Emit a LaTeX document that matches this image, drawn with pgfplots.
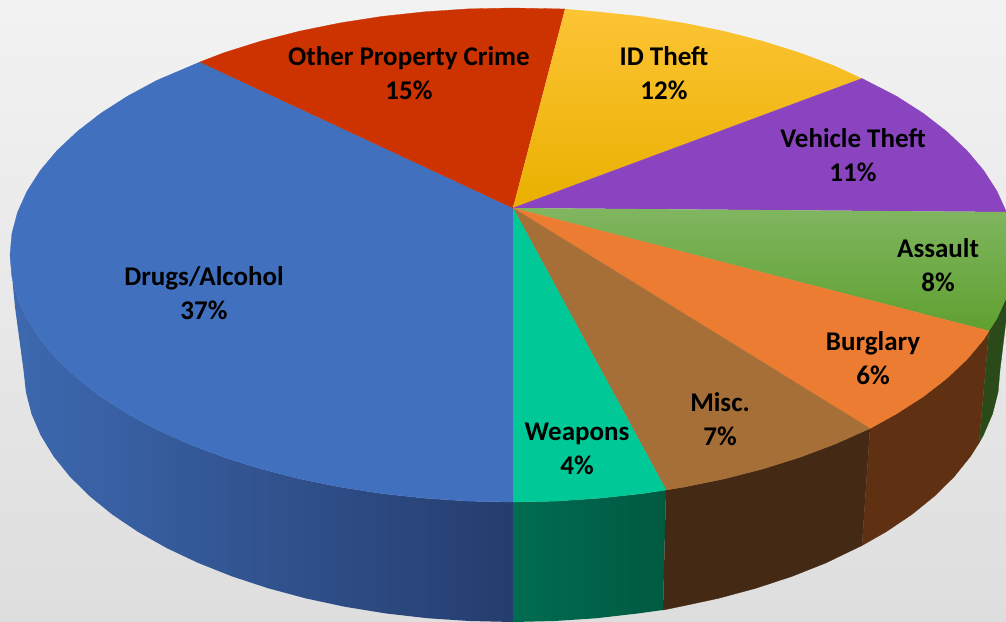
\documentclass[border=0pt]{standalone}
\usepackage{pgfplots}
\pgfplotsset{compat=1.18}
\usepackage{fontspec}
\setmainfont{Carlito}
\definecolor{cblue}{HTML}{4170BF}
\definecolor{cred}{HTML}{CC3300}
\definecolor{cpurple}{HTML}{8B44BF}
\definecolor{corange}{HTML}{EB7C31}
\definecolor{cbrown}{HTML}{A56F37}
\definecolor{cteal}{HTML}{00C896}
\definecolor{HTMLblueL}{HTML}{3D69B0}
\definecolor{HTMLblueM}{HTML}{2F5391}
\definecolor{HTMLblueR}{HTML}{253D6E}
\definecolor{HTMLtealL}{HTML}{006C50}
\definecolor{HTMLtealR}{HTML}{005A42}
\definecolor{HTMLbrownS}{HTML}{442914}
\definecolor{HTMLorangeS}{HTML}{5F3112}
\definecolor{HTMLgreenS}{HTML}{2A4A1A}
\definecolor{HTMLyelT}{HTML}{FDC435}
\definecolor{HTMLyelM}{HTML}{FFC000}
\definecolor{HTMLyelB}{HTML}{E9B000}
\definecolor{HTMLgrnT}{HTML}{80B660}
\definecolor{HTMLgrnM}{HTML}{70AD47}
\definecolor{HTMLgrnB}{HTML}{5FA030}
\newcommand{\lab}[3]{\node[align=center,text=black,font=\fontsize{27}{34}\selectfont\bfseries,inner sep=0pt] at (axis cs:#1,#2) {#3};}
\begin{document}
\begin{tikzpicture}
\begin{axis}[
  width=1006pt,height=621pt,scale only axis,
  xmin=0,xmax=1006,ymin=0,ymax=621,y dir=reverse,
  hide axis,clip=true,no markers,
  every axis plot/.append style={forget plot,sharp plot}
]
% background
\addplot[draw=none,top color=black!5,middle color=black!15,bottom color=black!13] coordinates {(0,0)(1006,0)(1006,621)(0,621)};
% side walls
\addplot[draw=none,left color=HTMLblueL,middle color=HTMLblueM,right color=HTMLblueR] coordinates {
(10,255)(11.9,276.5)(17.6,297.9)(27.1,318.9)(40.3,339.5)(57,359.4)(77.3,378.5)(100.8,396.7)(127.5,413.8)(157,429.7)(189.3,444.2)(224.1,457.3)(261,468.9)(299.9,478.9)(340.3,487.1)(382.1,493.6)(424.9,498.2)(468.2,501.1)(513,502)
(513,622)(469.4,621)(427.3,618.2)(385.7,613.4)(345.1,606.8)(305.8,598.4)(268,588.2)(232.1,576.4)(198.3,563)(166.9,548.2)(138.2,532)(112.2,514.5)(89.4,496)(69.7,476.5)(53.4,456.2)(40.6,435.2)(31.4,413.7)(25.9,392)(23.5,370)(15,307)};
\addplot[draw=none,left color=HTMLtealL,right color=HTMLtealR] coordinates {
(513,502)(555.8,501.1)(599.1,498.2)(641.9,493.6)(666,490)(663,610)(638.3,613.4)(596.7,618.2)(554.6,621)(513,622)};
\addplot[fill=HTMLbrownS,draw=HTMLbrownS,line width=.3pt] coordinates {
(666,490)(683.7,487.1)(724.1,478.9)(763,468.9)(799.9,457.3)(834.7,444.2)(870,428.5)(862,545.5)(825.7,563)(791.9,576.4)(756,588.2)(718.2,598.4)(678.9,606.8)(663,610)};
\addplot[fill=HTMLorangeS,draw=HTMLorangeS,line width=.3pt] coordinates {
(870,428.5)(896.5,413.8)(923.2,396.7)(946.7,378.5)(967,359.4)(983.7,339.5)(989,331)(979,443)(970.6,456.2)(954.3,476.5)(934.6,496)(911.8,514.5)(885.8,532)(862,545.5)};
\addplot[fill=HTMLgreenS,draw=HTMLgreenS,line width=.3pt] coordinates {
(989,331)(996.9,318.9)(1006.4,297.9)(1012.1,276.5)(1014,255)(1000,370)(998.1,392)(992.6,413.7)(983.4,435.2)(979,443)};
% top wedges
\addplot[fill=cblue,draw=cblue,line width=.3pt] coordinates {
(513,208)(513,502)(468.2,501.1)(424.9,498.2)(382.1,493.6)(340.3,487.1)(299.9,478.9)(261,468.9)(224.1,457.3)(189.3,444.2)(157,429.7)(127.5,413.8)(100.8,396.7)(77.3,378.5)(57,359.4)(40.3,339.5)(27.1,318.9)(17.6,297.9)(11.9,276.5)(10,255)
(11.9,233.5)(17.6,212.1)(27.1,191.1)(40.3,170.5)(57,150.6)(77.3,131.5)(100.8,113.3)(127.5,96.2)(157,80.3)(200,62)};
\addplot[fill=cred,draw=cred,line width=.3pt] coordinates {
(513,208)(200,62)(224.1,52.7)(261,41.1)(299.9,31.1)(340.3,22.9)(382.1,16.4)(424.9,11.8)(468.2,8.9)(512,8)(565,9)};
\addplot[draw=none,top color=HTMLyelT,middle color=HTMLyelM,bottom color=HTMLyelB] coordinates {
(513,208)(565,9)(599.1,11.8)(641.9,16.4)(683.7,22.9)(724.1,31.1)(763,41.1)(799.9,52.7)(834.7,65.8)(862,78.5)};
\addplot[fill=cpurple,draw=cpurple,line width=.3pt] coordinates {
(513,208)(862,78.5)(896.5,96.2)(923.2,113.3)(946.7,131.5)(967,150.6)(983.7,170.5)(996.9,191.1)(1006.4,212)};
\addplot[draw=none,top color=HTMLgrnT,middle color=HTMLgrnM,bottom color=HTMLgrnB] coordinates {
(513,208)(1006.4,212)(1012.1,233.5)(1014,255)(1012.1,276.5)(1006.4,297.9)(996.9,318.9)(989,331)};
\addplot[fill=corange,draw=corange,line width=.3pt] coordinates {
(513,208)(989,331)(983.7,339.5)(967,359.4)(946.7,378.5)(923.2,396.7)(896.5,413.8)(870,428.5)};
\addplot[fill=cbrown,draw=cbrown,line width=.3pt] coordinates {
(513,208)(870,428.5)(834.7,444.2)(799.9,457.3)(763,468.9)(724.1,478.9)(683.7,487.1)(666,490)};
\addplot[fill=cteal,draw=cteal,line width=.3pt] coordinates {
(513,208)(666,490)(641.9,493.6)(599.1,498.2)(555.8,501.1)(513,502)};
% labels
\lab{204}{293}{Drugs/Alcohol\\37\%}
\lab{409}{73}{Other Property Crime\\15\%}
\lab{664}{73}{ID Theft\\12\%}
\lab{853}{155}{Vehicle Theft\\11\%}
\lab{938}{265}{Assault\\8\%}
\lab{873}{358}{Burglary\\6\%}
\lab{720}{419}{Misc.\\7\%}
\lab{577}{449}{Weapons\\4\%}
\end{axis}
\end{tikzpicture}
\end{document}
